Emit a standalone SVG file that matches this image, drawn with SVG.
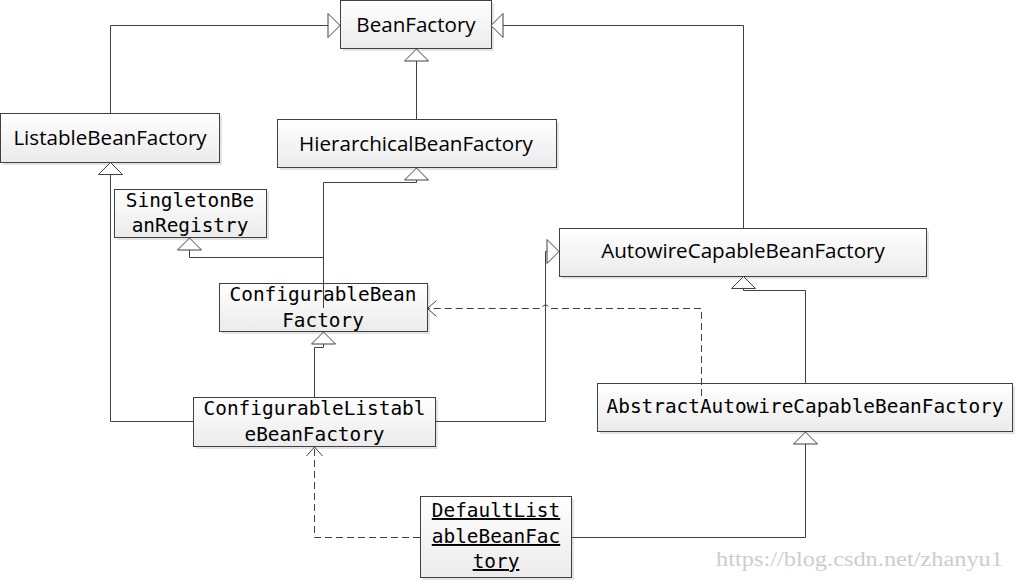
<svg xmlns="http://www.w3.org/2000/svg" width="1016" height="581" viewBox="0 0 1016 581">
<style>
.box{fill:url(#g);stroke:#404040;stroke-width:1}
.sh{fill:#e4e4e4}
.s{font-family:"Open Sans","Liberation Sans",sans-serif;font-size:20.6px;fill:#000;text-anchor:middle}
.m{font-family:"DejaVu Sans Mono","Liberation Mono",monospace;font-size:19.4px;fill:#000;text-anchor:middle}
.u{text-decoration:underline}
.c{fill:none;stroke:#404040;stroke-width:1}
.gen{marker-end:url(#tri)}
.dep{stroke-dasharray:7,4;marker-end:url(#open)}
.wm{font-family:"Liberation Serif",serif;font-size:20px;fill:#cdcdcd}
</style>
<defs>
<linearGradient id="g" x1="0" y1="0" x2="0" y2="1">
<stop offset="0" stop-color="#ffffff"/>
<stop offset="1" stop-color="#ebebeb"/>
</linearGradient>
<marker id="tri" markerUnits="userSpaceOnUse" markerWidth="16" markerHeight="28" refX="13" refY="13" orient="auto">
<path d="M1,1 L13,13 L1,25 Z" fill="#fff" stroke="#404040" stroke-width="1"/>
</marker>
<marker id="open" markerUnits="userSpaceOnUse" markerWidth="14" markerHeight="20" refX="10" refY="9" orient="auto">
<path d="M1,1 L10,9 L1,17" fill="none" stroke="#404040" stroke-width="1"/>
</marker>
</defs>
<rect width="1016" height="581" fill="#fff"/>
<g id="BeanFactory">
<rect class="sh" x="343" y="3" width="151" height="48"/>
<rect class="box" x="340.5" y="0.5" width="151" height="48"/>
<text class="s" x="416" y="32">BeanFactory</text>
</g>
<g id="ListableBeanFactory">
<rect class="sh" x="3" y="116" width="219" height="49"/>
<rect class="box" x="0.5" y="113.5" width="219" height="49"/>
<text class="s" x="110" y="145">ListableBeanFactory</text>
</g>
<g id="HierarchicalBeanFactory">
<rect class="sh" x="280" y="122" width="279" height="48"/>
<rect class="box" x="277.5" y="119.5" width="279" height="48"/>
<text class="s" x="416" y="151">HierarchicalBeanFactory</text>
</g>
<g id="SingletonBeanRegistry">
<rect class="sh" x="117" y="192" width="152" height="48"/>
<rect class="box" x="114.5" y="189.5" width="152" height="48"/>
<text class="m" x="190" y="207">SingletonBe</text>
<text class="m" x="190" y="232">anRegistry</text>
</g>
<g id="ConfigurableBeanFactory">
<rect class="sh" x="222" y="286" width="208" height="48"/>
<rect class="box" x="219.5" y="283.5" width="208" height="48"/>
<text class="m" x="323" y="301">ConfigurableBean</text>
<text class="m" x="323" y="327">Factory</text>
</g>
<g id="ConfigurableListableBeanFactory">
<rect class="sh" x="196" y="400" width="242" height="49"/>
<rect class="box" x="193.5" y="397.5" width="242" height="49"/>
<text class="m" x="314.5" y="415">ConfigurableListabl</text>
<text class="m" x="314.5" y="441">eBeanFactory</text>
</g>
<g id="AutowireCapableBeanFactory">
<rect class="sh" x="562" y="231" width="367" height="48"/>
<rect class="box" x="559.5" y="228.5" width="367" height="48"/>
<text class="s" x="743" y="258">AutowireCapableBeanFactory</text>
</g>
<g id="AbstractAutowireCapableBeanFactory">
<rect class="sh" x="600" y="386" width="415" height="48"/>
<rect class="box" x="597.5" y="383.5" width="415" height="48"/>
<text class="m" x="805" y="413">AbstractAutowireCapableBeanFactory</text>
</g>
<g id="DefaultListableBeanFactory">
<rect class="sh" x="423" y="499" width="151" height="81"/>
<rect class="box" x="420.5" y="496.5" width="151" height="81"/>
<text class="m u" x="496" y="517">DefaultList</text>
<text class="m u" x="496" y="543">ableBeanFac</text>
<text class="m u" x="496" y="568">tory</text>
</g>
<g id="connectors">
<path class="c gen" d="M110.5,113 V25.5 H340"/>
<path class="c gen" d="M743.5,228 V25.5 H491"/>
<path class="c gen" d="M416.5,119 V49"/>
<path class="c gen" d="M323.5,308 V182.5 H416.5 V168"/>
<path class="c gen" d="M323.5,257.5 H189.5 V238"/>
<path class="c gen" d="M314.5,397 V347.5 H323.5 V332"/>
<path class="c gen" d="M193,421.5 H110.5 V162.5"/>
<path class="c gen" d="M436,421.5 H545.5 V251.5 H559"/>
<path class="c gen" d="M805.5,384 V290.5 H743.5 V276.5"/>
<path class="c gen" d="M572,537.5 H805.5 V432"/>
<path class="c dep" d="M701.5,396 V308.5 H549 A3.5,3.5 0 0 0 542,308.5 H427.5"/>
<path class="c dep" d="M420,537.5 H314.5 V447"/>
</g>
<text class="wm" x="716" y="566" textLength="287" lengthAdjust="spacingAndGlyphs">https://blog.csdn.net/zhanyu1</text>
</svg>
